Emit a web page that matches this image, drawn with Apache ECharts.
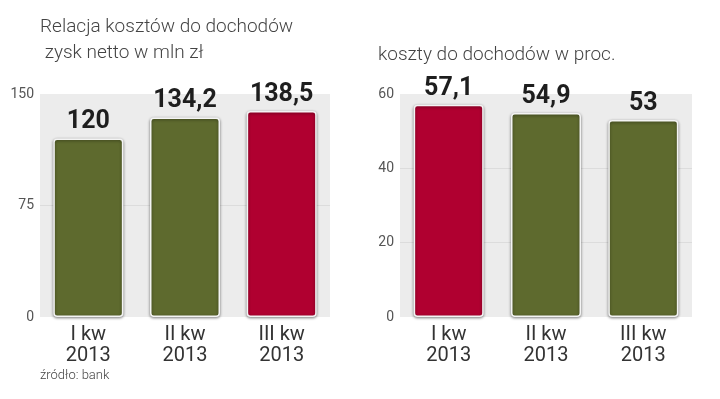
<!DOCTYPE html>
<html>
<head>
<meta charset="utf-8">
<script src="https://cdn.jsdelivr.net/npm/echarts@6/dist/echarts.min.js"></script>
<style>
  html, body { margin: 0; padding: 0; background: #fff; }
  #chart { width: 720px; height: 399px; }
</style>
</head>
<body>
<div id="chart"></div>
<script>
const quarters = ['I kw\n2013', 'II kw\n2013', 'III kw\n2013']
const profit = [120, 134.2, 138.5]
const costRatio = [57.1, 54.9, 53]
const profitColors = ['#5e6a2e', '#5e6a2e', '#b00030']
const ratioColors = ['#b00030', '#5e6a2e', '#5e6a2e']

const chart = echarts.init(document.getElementById('chart'))

const fmt = v => String(v).replace('.', ',')

function barSeries(idx, values, colors) {
  return {
    type: 'bar',
    xAxisIndex: idx,
    yAxisIndex: idx,
    barWidth: 70,
    data: values.map((v, i) => ({ value: v, itemStyle: { color: colors[i] } })),
    itemStyle: {
      borderColor: '#f4f4f4',
      borderWidth: 1.5,
      borderRadius: 3,
      shadowColor: 'rgba(0,0,0,0.45)',
      shadowBlur: 3,
      shadowOffsetX: 0,
      shadowOffsetY: 1
    },
    label: {
      show: true,
      position: 'top',
      distance: 4,
      formatter: p => fmt(p.value),
      fontFamily: 'Roboto',
      fontWeight: 'bold',
      fontSize: 25,
      color: '#1e1e1e'
    }
  }
}

function xAxis(idx) {
  return {
    type: 'category',
    gridIndex: idx,
    data: quarters,
    axisLine: { show: false },
    axisTick: { show: false },
    axisLabel: {
      margin: 7,
      fontFamily: 'Roboto',
      fontSize: 20,
      lineHeight: 21,
      color: '#333'
    }
  }
}

function yAxis(idx, max, interval) {
  return {
    type: 'value',
    gridIndex: idx,
    min: 0,
    max: max,
    interval: interval,
    axisLine: { show: false },
    axisTick: { show: false },
    splitLine: { showMinLine: false, showMaxLine: false, lineStyle: { color: '#dcdcdc', width: 1 } },
    axisLabel: {
      margin: 6,
      fontFamily: 'Roboto',
      fontSize: 14,
      color: '#555'
    }
  }
}

chart.setOption({
  animation: false,
  title: [
    {
      text: 'Relacja kosztów do dochodów\n zysk netto w mln zł',
      left: 40, top: 14, padding: 0,
      textStyle: { fontFamily: 'Roboto', fontWeight: 300, fontSize: 19, lineHeight: 26, color: '#444' }
    },
    {
      text: 'koszty do dochodów w proc.',
      left: 378, top: 46, padding: 0,
      textStyle: { fontFamily: 'Roboto', fontWeight: 300, fontSize: 19, color: '#444' }
    },
    {
      text: 'źródło: bank',
      left: 40, top: 369, padding: 0,
      textStyle: { fontFamily: 'Roboto', fontWeight: 300, fontSize: 13, color: '#444' }
    }
  ],
  grid: [
    { left: 40, right: 390, top: 94, bottom: 82, show: true, backgroundColor: '#ececec', borderWidth: 0 },
    { left: 400, right: 28, top: 94, bottom: 82, show: true, backgroundColor: '#ececec', borderWidth: 0 }
  ],
  xAxis: [xAxis(0), xAxis(1)],
  yAxis: [yAxis(0, 150, 75), yAxis(1, 60, 20)],
  series: [
    barSeries(0, profit, profitColors),
    barSeries(1, costRatio, ratioColors)
  ]
})
</script>
</body>
</html>
